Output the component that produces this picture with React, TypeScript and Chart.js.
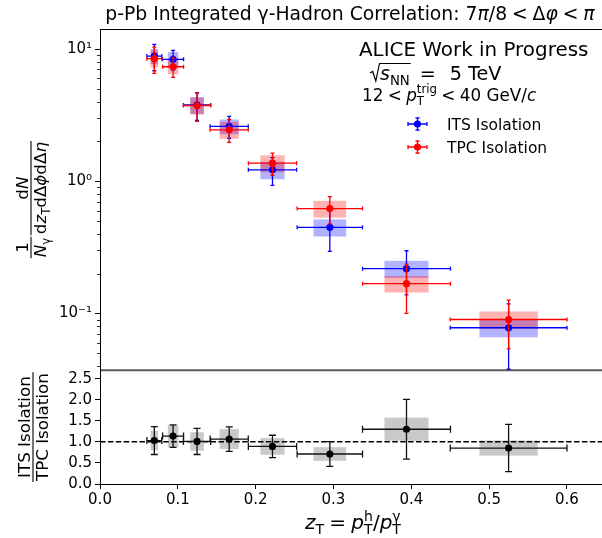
import React, { useEffect, useRef } from 'react';
import { Chart, registerables } from 'chart.js';

Chart.register(...registerables);

// z_T bins: centres and half-widths
const zT = [0.0698, 0.0939, 0.1247, 0.166, 0.2216, 0.2953, 0.3938, 0.525];
const zTHalf = [0.0096, 0.0135, 0.0175, 0.0245, 0.031, 0.042, 0.0565, 0.075];

// ITS isolation: per-trigger yield, statistical and systematic uncertainties
const itsValue = [8.85, 8.36, 3.78, 2.6, 1.22, 0.448, 0.218, 0.078];
const itsStat = [2.0, 1.42, 0.9, 0.49, 0.29, 0.153, 0.08, 0.04];
const itsSys = [1.15, 1.13, 0.55, 0.33, 0.185, 0.066, 0.032, 0.012];

// TPC isolation
const tpcValue = [8.45, 7.34, 3.74, 2.45, 1.37, 0.621, 0.168, 0.09];
const tpcStat = [1.9, 1.24, 0.9, 0.48, 0.26, 0.145, 0.068, 0.036];
const tpcSys = [1.2, 0.9, 0.55, 0.36, 0.2, 0.09, 0.024, 0.0136];

// ITS / TPC ratio
const ratioValue = [1.03, 1.137, 1.01, 1.066, 0.892, 0.712, 1.3, 0.853];
const ratioStat = [0.33, 0.266, 0.31, 0.29, 0.265, 0.295, 0.71, 0.56];
const ratioSys = [0.23, 0.26, 0.22, 0.235, 0.197, 0.162, 0.275, 0.18];

// reference line in the ratio panel
const unityLine = [1, 1];

// axis ticks
const xTicks = [0, 0.1, 0.2, 0.3, 0.4, 0.5, 0.6];
const yieldTicks = [
  0.04, 0.05, 0.06, 0.07, 0.08, 0.09, 0.1, 0.2, 0.3, 0.4, 0.5, 0.6, 0.7, 0.8, 0.9,
  1, 2, 3, 4, 5, 6, 7, 8, 9, 10,
];
const ratioTicks = [0, 0.5, 1, 1.5, 2, 2.5];

const X_MIN = 0;
const X_MAX = 0.645;
const Y_MIN = 0.0372;
const Y_MAX = 14.17;
const R_MIN = 0;
const R_MAX = 2.7;

const BOX_FRACTION = 0.5; // systematic box spans half of the bin width

const FAMILY = '"DejaVu Sans", sans-serif';

// the canvas runs a few pixels past the visible frame so that the plot area
// reaches the right edge (Chart.js keeps a margin for point overflow)
const VIEW_W = 602;
const VIEW_H = 538;
const CANVAS_W = 606;

type Run = { t: string; it?: boolean; k?: number; dy?: number; over?: boolean; gap?: number };

const sub = (t: string, it = false): Run => ({ t, k: 0.7, dy: 0.24, it });
const sup = (t: string, over = false, it = false): Run => ({ t, k: 0.7, dy: -0.42, over, it });
const gapRun = (g: number): Run => ({ t: '', gap: g });
const rel = gapRun(0.26);

function fontFor(r: Run, size: number) {
  return `${r.it ? 'italic ' : ''}${(size * (r.k ?? 1)).toFixed(2)}px ${FAMILY}`;
}

function layoutRuns(ctx: CanvasRenderingContext2D, runs: Run[], size: number) {
  let cursor = 0;
  let prevStart = 0;
  const items: { r: Run; x: number }[] = [];
  for (const r of runs) {
    if (r.gap) {
      cursor += r.gap * size;
      continue;
    }
    ctx.font = fontFor(r, size);
    const w = ctx.measureText(r.t).width;
    const start = r.over ? prevStart : cursor;
    items.push({ r, x: start });
    cursor = r.over ? Math.max(cursor, start + w) : start + w;
    prevStart = start;
  }
  return { items, width: cursor };
}

function drawRuns(
  ctx: CanvasRenderingContext2D,
  runs: Run[],
  x: number,
  y: number,
  size: number,
  align: 'left' | 'center' | 'right' = 'left',
) {
  const { items, width } = layoutRuns(ctx, runs, size);
  const x0 = align === 'center' ? x - width / 2 : align === 'right' ? x - width : x;
  ctx.textAlign = 'left';
  ctx.textBaseline = 'alphabetic';
  for (const { r, x: rx } of items) {
    ctx.font = fontFor(r, size);
    ctx.fillText(r.t, x0 + rx, y + (r.dy ?? 0) * size);
  }
  return width;
}

function fracWidth(ctx: CanvasRenderingContext2D, num: Run[], den: Run[], size: number) {
  return Math.max(layoutRuns(ctx, num, size).width, layoutRuns(ctx, den, size).width) + 0.12 * size;
}

// draws a stacked fraction whose bar starts at x and sits at height barY
function drawFrac(
  ctx: CanvasRenderingContext2D,
  num: Run[],
  den: Run[],
  x: number,
  barY: number,
  size: number,
) {
  const w = fracWidth(ctx, num, den, size);
  ctx.beginPath();
  ctx.moveTo(x, barY);
  ctx.lineTo(x + w, barY);
  ctx.lineWidth = 1.1;
  ctx.stroke();
  drawRuns(ctx, num, x + w / 2, barY - 0.2 * size, size, 'center');
  drawRuns(ctx, den, x + w / 2, barY + 0.88 * size, size, 'center');
  return w;
}

const isDecade = (v: number) => Math.abs(Math.log10(v) - Math.round(Math.log10(v))) < 1e-6;
const SUPERS: Record<string, string> = { '-': '⁻', '0': '⁰', '1': '¹', '2': '²', '3': '³' };
const decadeLabel = (v: number) =>
  isDecade(v) ? '10' + String(Math.round(Math.log10(v))).split('').map((c) => SUPERS[c] ?? c).join('') : '';

const legendItems = [
  { label: 'ITS Isolation', color: '#0000ff' },
  { label: 'TPC Isolation', color: '#ff0000' },
];

function panelClip(chart: any, scaleId: string) {
  const a = chart.chartArea;
  const s = chart.scales[scaleId];
  const ctx = chart.ctx as CanvasRenderingContext2D;
  ctx.beginPath();
  ctx.rect(a.left, s.top, a.right - a.left, s.bottom - s.top);
  ctx.clip();
}

function drawErrorBar(
  ctx: CanvasRenderingContext2D,
  px: number,
  py: number,
  xl: number,
  xr: number,
  yt: number,
  yb: number,
  cap: number,
) {
  ctx.beginPath();
  ctx.moveTo(xl, py);
  ctx.lineTo(xr, py);
  ctx.moveTo(px, yt);
  ctx.lineTo(px, yb);
  // caps
  ctx.moveTo(xl, py - cap);
  ctx.lineTo(xl, py + cap);
  ctx.moveTo(xr, py - cap);
  ctx.lineTo(xr, py + cap);
  ctx.moveTo(px - cap, yt);
  ctx.lineTo(px + cap, yt);
  ctx.moveTo(px - cap, yb);
  ctx.lineTo(px + cap, yb);
  ctx.stroke();
}

const uncertaintyPlugin = {
  id: 'uncertainties',
  beforeDatasetsDraw(chart: any) {
    const ctx = chart.ctx as CanvasRenderingContext2D;
    const xs = chart.scales.x;
    chart.data.datasets.forEach((ds: any) => {
      if (!ds.sys) return;
      const ys = chart.scales[ds.yAxisID];
      ctx.save();
      panelClip(chart, ds.yAxisID);
      ctx.fillStyle = ds.boxColor;
      ds.data.forEach((p: any, i: number) => {
        const x0 = xs.getPixelForValue(p.x - ds.xErr[i] * BOX_FRACTION);
        const x1 = xs.getPixelForValue(p.x + ds.xErr[i] * BOX_FRACTION);
        const y0 = ys.getPixelForValue(p.y + ds.sys[i]);
        const y1 = ys.getPixelForValue(p.y - ds.sys[i]);
        ctx.fillRect(x0, y0, x1 - x0, y1 - y0);
      });
      ctx.restore();
    });
  },
  beforeDatasetDraw(chart: any, args: any) {
    const ds = chart.data.datasets[args.index];
    if (!ds.stat) return;
    const ctx = chart.ctx as CanvasRenderingContext2D;
    const xs = chart.scales.x;
    const ys = chart.scales[ds.yAxisID];
    ctx.save();
    panelClip(chart, ds.yAxisID);
    ctx.strokeStyle = ds.barColor;
    ctx.lineWidth = 1.3;
    ds.data.forEach((p: any, i: number) => {
      drawErrorBar(
        ctx,
        xs.getPixelForValue(p.x),
        ys.getPixelForValue(p.y),
        xs.getPixelForValue(p.x - ds.xErr[i]),
        xs.getPixelForValue(p.x + ds.xErr[i]),
        ys.getPixelForValue(p.y + ds.stat[i]),
        ys.getPixelForValue(p.y - ds.stat[i]),
        ds.cap,
      );
    });
    ctx.restore();
  },
  afterDraw(chart: any) {
    const ctx = chart.ctx as CanvasRenderingContext2D;
    const a = chart.chartArea;
    const y = chart.scales.y;
    const y2 = chart.scales.y2;
    ctx.save();
    ctx.fillStyle = '#000';
    ctx.strokeStyle = '#000';

    // frame: top spine and the shared edge between the panels
    ctx.lineWidth = 1;
    ctx.beginPath();
    ctx.moveTo(a.left, y.top + 0.5);
    ctx.lineTo(a.right, y.top + 0.5);
    ctx.stroke();
    ctx.strokeStyle = 'rgba(0,0,0,0.65)';
    ctx.lineWidth = 2;
    ctx.beginPath();
    ctx.moveTo(a.left, y.bottom);
    ctx.lineTo(a.right, y.bottom);
    ctx.stroke();

    // minor ticks of the log axis
    ctx.strokeStyle = '#000';
    ctx.lineWidth = 0.8;
    ctx.beginPath();
    y.ticks.forEach((t: any) => {
      if (isDecade(t.value)) return;
      const py = Math.round(y.getPixelForValue(t.value)) + 0.5;
      ctx.moveTo(a.left - 3, py);
      ctx.lineTo(a.left, py);
    });
    ctx.stroke();

    // title
    drawRuns(
      ctx,
      [
        { t: 'p-Pb Integrated γ-Hadron Correlation: ' },
        { t: '7' },
        { t: 'π', it: true },
        { t: '/8' },
        rel,
        { t: '<' },
        rel,
        { t: 'Δ' },
        { t: 'φ', it: true },
        rel,
        { t: '<' },
        rel,
        { t: 'π', it: true },
      ],
      350,
      20,
      18.8,
      'center',
    );

    // annotations
    drawRuns(ctx, [{ t: 'ALICE Work in Progress' }], 359, 56, 19.9);

    const sx = 370;
    const sb = 80;
    const sRuns: Run[] = [{ t: 's', it: true }, sub('NN')];
    const sW = drawRuns(ctx, sRuns, sx + 10, sb, 19);
    ctx.lineWidth = 1.2;
    ctx.beginPath();
    ctx.moveTo(sx, sb - 7);
    ctx.lineTo(sx + 2.7, sb - 8.5);
    ctx.lineTo(sx + 5.8, sb + 1);
    ctx.lineTo(sx + 9.5, sb - 16.5);
    ctx.lineTo(sx + 11 + sW, sb - 16.5);
    ctx.stroke();
    drawRuns(ctx, [gapRun(0.42), { t: '=' }, gapRun(0.72), { t: '5 TeV' }], sx + 12 + sW, sb, 19.2);

    drawRuns(
      ctx,
      [
        { t: '12' },
        rel,
        { t: '<' },
        rel,
        { t: 'p', it: true },
        sub('T'),
        sup('trig', true),
        rel,
        { t: '<' },
        rel,
        { t: '40 GeV/' },
        { t: 'c', it: true },
      ],
      362,
      100.5,
      16.8,
    );

    // legend
    legendItems.forEach((item, i) => {
      const lx = 417.5;
      const ly = 124 + i * 23;
      ctx.strokeStyle = item.color;
      ctx.fillStyle = item.color;
      ctx.lineWidth = 1.3;
      drawErrorBar(ctx, lx, ly, lx - 9.5, lx + 9.5, ly - 6, ly + 6, 2);
      ctx.beginPath();
      ctx.arc(lx, ly, 3.6, 0, Math.PI * 2);
      ctx.fill();
      ctx.fillStyle = '#000';
      drawRuns(ctx, [{ t: item.label }], 447, ly + 5.5, 15.5);
    });

    // axis titles
    ctx.fillStyle = '#000';
    ctx.strokeStyle = '#000';
    drawRuns(
      ctx,
      [
        { t: 'z', it: true },
        sub('T'),
        rel,
        { t: '=' },
        rel,
        { t: 'p', it: true },
        sub('T'),
        sup('h', true),
        { t: '/' },
        { t: 'p', it: true },
        sub('T'),
        sup('γ', true),
      ],
      353,
      529,
      20,
      'center',
    );

    const ySize = 16.7;
    // top panel: 1/N_γ dN/(dz_T dΔϕ dΔη)
    ctx.save();
    ctx.translate(0, (y.top + y.bottom) / 2);
    ctx.rotate(-Math.PI / 2);
    const fa: [Run[], Run[]] = [[{ t: '1' }], [{ t: 'N', it: true }, sub('γ')]];
    const fb: [Run[], Run[]] = [
      [{ t: 'd' }, { t: 'N', it: true }],
      [
        { t: 'd' },
        { t: 'z', it: true },
        sub('T'),
        { t: 'd' },
        { t: 'Δ' },
        { t: 'ϕ', it: true },
        { t: 'd' },
        { t: 'Δ' },
        { t: 'η', it: true },
      ],
    ];
    const wa = fracWidth(ctx, fa[0], fa[1], ySize);
    const wb = fracWidth(ctx, fb[0], fb[1], ySize);
    const gap = 0.1 * ySize;
    const u0 = -(wa + gap + wb) / 2;
    drawFrac(ctx, fa[0], fa[1], u0, 31, ySize);
    drawFrac(ctx, fb[0], fb[1], u0 + wa + gap, 31, ySize);
    ctx.restore();

    // ratio panel: ITS Isolation / TPC Isolation
    ctx.save();
    ctx.translate(0, (y2.top + y2.bottom) / 2);
    ctx.rotate(-Math.PI / 2);
    const num: Run[] = [{ t: 'ITS Isolation' }];
    const den: Run[] = [{ t: 'TPC Isolation' }];
    const wr = fracWidth(ctx, num, den, ySize);
    drawFrac(ctx, num, den, -wr / 2, 33, ySize);
    ctx.restore();

    ctx.restore();
  },
};

const tickFont = { size: 15, family: FAMILY };

export default function App() {
  const ref = useRef<HTMLCanvasElement>(null);

  useEffect(() => {
    const canvas = ref.current;
    if (!canvas) return;
    Chart.defaults.font.family = FAMILY;

    const chart = new Chart(canvas, {
      type: 'scatter',
      data: {
        datasets: [
          {
            label: 'ITS Isolation',
            data: zT.map((x, i) => ({ x, y: itsValue[i] })),
            yAxisID: 'y',
            xErr: zTHalf,
            stat: itsStat,
            sys: itsSys,
            barColor: '#0000ff',
            boxColor: 'rgba(0,0,255,0.3)',
            cap: 2,
            pointRadius: 3.6,
            pointBorderWidth: 0,
            pointBackgroundColor: '#0000ff',
            order: 2,
          } as any,
          {
            label: 'TPC Isolation',
            data: zT.map((x, i) => ({ x, y: tpcValue[i] })),
            yAxisID: 'y',
            xErr: zTHalf,
            stat: tpcStat,
            sys: tpcSys,
            barColor: '#ff0000',
            boxColor: 'rgba(255,0,0,0.3)',
            cap: 2,
            pointRadius: 3.6,
            pointBorderWidth: 0,
            pointBackgroundColor: '#ff0000',
            order: 1,
          } as any,
          {
            label: 'ITS / TPC',
            data: zT.map((x, i) => ({ x, y: ratioValue[i] })),
            yAxisID: 'y2',
            xErr: zTHalf,
            stat: ratioStat,
            sys: ratioSys,
            barColor: '#111111',
            boxColor: 'rgba(0,0,0,0.21)',
            cap: 3.5,
            pointRadius: 3.6,
            pointBorderWidth: 0,
            pointBackgroundColor: '#000000',
            order: 0,
          } as any,
          {
            type: 'line',
            label: 'unity',
            data: [
              { x: X_MIN, y: unityLine[0] },
              { x: X_MAX, y: unityLine[1] },
            ],
            yAxisID: 'y2',
            showLine: true,
            borderColor: '#000',
            borderWidth: 1.5,
            borderDash: [5.5, 2.4],
            pointRadius: 0,
            order: 3,
          } as any,
        ],
      },
      options: {
        responsive: false,
        devicePixelRatio: 1,
        animation: false,
        events: [],
        layout: { padding: { top: 29, left: 0, right: 0, bottom: 0 } },
        plugins: {
          legend: { display: false },
          tooltip: { enabled: false },
          title: { display: false },
        },
        scales: {
          x: {
            type: 'linear',
            position: 'bottom',
            min: X_MIN,
            max: X_MAX,
            afterBuildTicks: (s: any) => {
              s.ticks = xTicks.map((v) => ({ value: v }));
            },
            afterFit: (s: any) => {
              s.height = 54;
              s.paddingLeft = 0;
              s.paddingRight = 0;
            },
            ticks: {
              color: '#000',
              font: tickFont,
              padding: 2,
              autoSkip: false,
              maxRotation: 0,
              callback: (v: any) => Number(v).toFixed(1),
            },
            grid: { drawOnChartArea: false, tickLength: 5, tickWidth: 1, tickColor: '#000' },
            border: { color: '#000', width: 1 },
          },
          y: {
            type: 'logarithmic',
            position: 'left',
            stack: 'panels',
            stackWeight: 3,
            weight: 2,
            min: Y_MIN,
            max: Y_MAX,
            afterBuildTicks: (s: any) => {
              s.ticks = yieldTicks.map((v) => ({ value: v }));
            },
            afterFit: (s: any) => {
              s.width = 100;
              s.paddingTop = 0;
              s.paddingBottom = 0;
            },
            ticks: {
              color: '#000',
              font: tickFont,
              padding: 3,
              autoSkip: false,
              callback: (v: any) => decadeLabel(Number(v)),
            },
            grid: {
              drawOnChartArea: false,
              tickLength: 5,
              tickWidth: 1,
              tickColor: (c: any) => (c.tick && isDecade(c.tick.value) ? '#000' : 'rgba(0,0,0,0)'),
            },
            border: { color: '#000', width: 1 },
          },
          y2: {
            type: 'linear',
            position: 'left',
            stack: 'panels',
            stackWeight: 1,
            weight: 1,
            min: R_MIN,
            max: R_MAX,
            afterBuildTicks: (s: any) => {
              s.ticks = ratioTicks.map((v) => ({ value: v }));
            },
            afterFit: (s: any) => {
              s.width = 100;
              s.paddingTop = 0;
              s.paddingBottom = 0;
            },
            ticks: {
              color: '#000',
              font: tickFont,
              padding: 3,
              autoSkip: false,
              callback: (v: any) => Number(v).toFixed(1),
            },
            grid: { drawOnChartArea: false, tickLength: 5, tickWidth: 1, tickColor: '#000' },
            border: { color: '#000', width: 1 },
          },
        } as any,
      },
      plugins: [uncertaintyPlugin],
    });

    return () => chart.destroy();
  }, []);

  return (
    <div
      style={{
        position: 'fixed',
        left: 0,
        top: 0,
        width: VIEW_W,
        height: VIEW_H,
        overflow: 'hidden',
        background: '#fff',
      }}
    >
      <canvas
        ref={ref}
        width={CANVAS_W}
        height={VIEW_H}
        style={{ display: 'block', width: CANVAS_W, height: VIEW_H }}
      />
    </div>
  );
}
